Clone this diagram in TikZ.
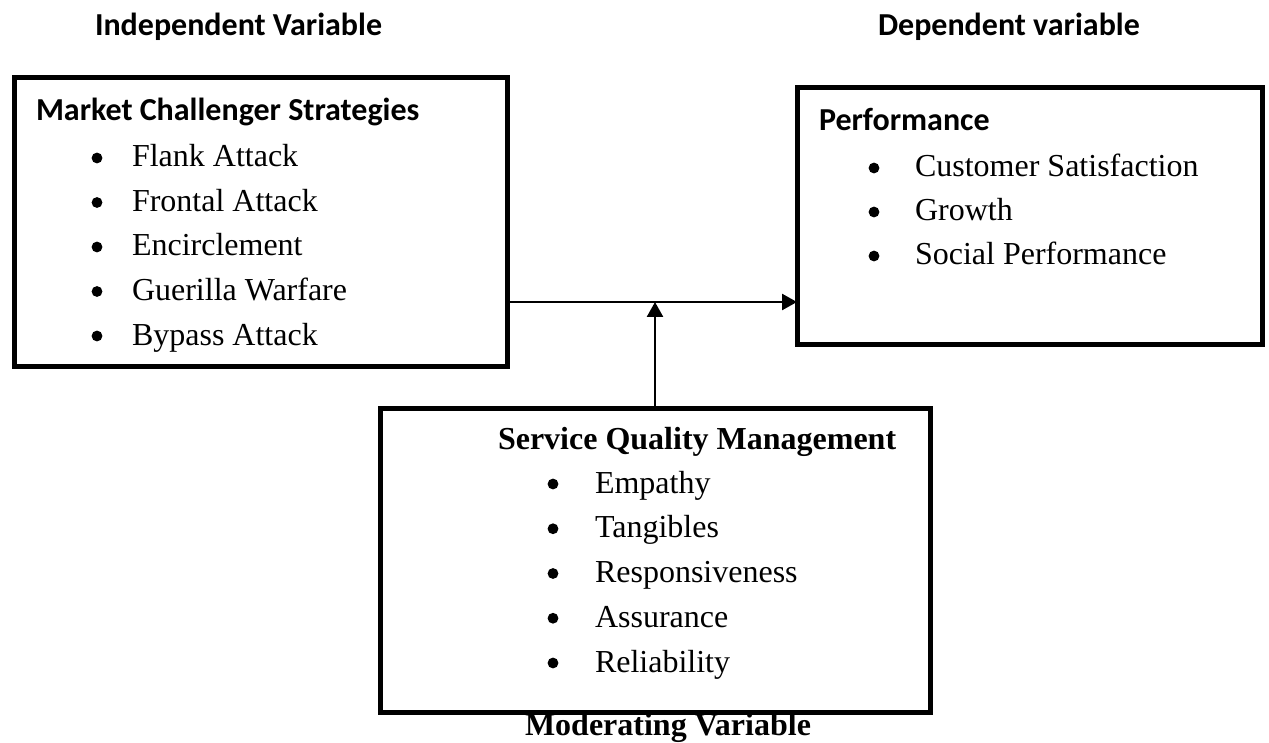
\documentclass[tikz,border=0pt]{standalone}
\usepackage{fontspec}
\setmainfont{Liberation Serif}
\newfontfamily\calibri{Carlito}
\usepackage{tikz}
\usetikzlibrary{positioning}
\usetikzlibrary{arrows.meta}

\begin{document}
\begin{tikzpicture}[x=0.5pt, y=-0.5pt,
  every node/.style={inner sep=0, outer sep=0, font=\fontsize{16}{22}\selectfont},
  box/.style={draw, line width=2.5pt, rectangle},
  head/.style={anchor=base west, font=\fontsize{16}{22}\selectfont\calibri\bfseries},
  bhead/.style={anchor=base west, font=\fontsize{16}{22}\selectfont\bfseries},
  item/.style={anchor=base west},
  dot/.style={circle, fill, minimum size=5.4pt},
  link/.style={line width=1.3pt, -{Triangle[length=7.5pt,width=8pt]}}]
\useasboundingbox (0,0) rectangle (1269,743);
% the three boxes
\node[box, minimum width=246.5pt, minimum height=144pt] (strat) at (260.5,222) {};
\node[box, minimum width=232.5pt, minimum height=128pt] (perf) at (1029.5,216) {};
\node[box, minimum width=275pt, minimum height=152pt] (sqm) at (655,560) {};
% headings
\node[head] (indep) at (95,36) {Independent Variable};
\node[head] (dep) at (878,36) {Dependent variable};
\node[head] (strathead) at (36,121) {Market Challenger Strategies};
\node[head] (perfhead) at (819,131) {Performance};
\node[bhead] (sqmhead) at (498,449) {Service Quality Management};
\node[bhead] (modvar) at (525,735) {Moderating Variable};
% bullet lists
\foreach \txt [count=\i] in {Flank Attack, Frontal Attack, Encirclement, Guerilla Warfare, Bypass Attack} {
  \node[dot] (stratdot\i) at (97,113.5+44.5*\i) {};
  \node[item] (strat\i) at (132,122.5+44.5*\i) {\txt};
}
\foreach \txt [count=\i] in {Customer Satisfaction, Growth, Social Performance} {
  \node[dot] (perfdot\i) at (874,124+44*\i) {};
  \node[item] (perf\i) at (915,133+44*\i) {\txt};
}
\foreach \txt [count=\i] in {Empathy, Tangibles, Responsiveness, Assurance, Reliability} {
  \node[dot] (sqmdot\i) at (553,439.25+44.75*\i) {};
  \node[item] (sqm\i) at (595,448.25+44.75*\i) {\txt};
}
% arrows
\coordinate (join) at (655,302);
\draw[link] (strat.east |- join) -- (perf.west |- join);
\draw[link] (sqm.north) -- (join);
\end{tikzpicture}
\end{document}
